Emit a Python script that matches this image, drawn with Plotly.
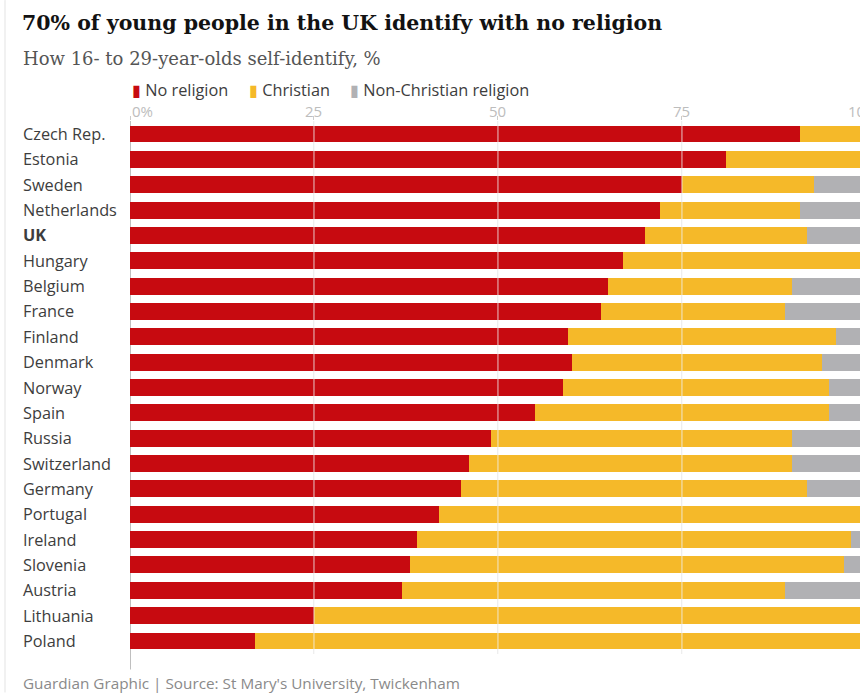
import plotly.graph_objects as go

countries = ["Czech Rep.", "Estonia", "Sweden", "Netherlands", "UK", "Hungary", "Belgium",
             "France", "Finland", "Denmark", "Norway", "Spain", "Russia", "Switzerland",
             "Germany", "Portugal", "Ireland", "Slovenia", "Austria", "Lithuania", "Poland"]
no_religion = [91, 81, 75, 72, 70, 67, 65, 64, 59.5, 60, 58.8, 55, 49, 46, 45, 42, 39, 38, 37, 25, 17]
christian = [9, 19, 18, 19, 22, 33, 25, 25, 36.5, 34, 36.2, 40, 41, 44, 47, 58, 59, 59, 52, 75, 83]
non_christian = [0, 0, 7, 9, 8, 0, 10, 11, 4, 6, 5, 5, 10, 10, 8, 0, 2, 3, 11, 0, 0]
series_names = ["No religion", "Christian", "Non-Christian religion"]
tick_values = [0, 25, 50, 75, 100]
tick_labels = ["0%", "25", "50", "75", "100"]

colors = ["#c70a10", "#f5b929", "#b1b1b4"]

W, H = 860, 693
L, R = 130, 860
T, B = 121, 654.5
PH = B - T
PW = R - L
XMAX = 99.2


def px(x):
    return (x - L) / PW


def py(y):
    return (B - y) / PH


fig = go.Figure()
for name, vals, col in zip(series_names, [no_religion, christian, non_christian], colors):
    fig.add_trace(go.Bar(y=countries, x=vals, name=name, orientation="h",
                         marker=dict(color=col, line=dict(width=0)), showlegend=False,
                         hoverinfo="x+y+name"))

annotations = []
# country labels
for c in countries:
    annotations.append(dict(x=px(20.5), xref="paper", y=c, yref="y", xanchor="left", yanchor="middle",
                            text=("<b>%s</b>" % c) if c == "UK" else c, showarrow=False,
                            font=dict(family="Open Sans", size=16.3, color="#3d3d3d")))
# axis tick labels (top)
for v, t in zip(tick_values, tick_labels):
    xp = px(L + v * PW / XMAX)
    annotations.append(dict(x=xp, xref="paper", y=py(111), yref="paper",
                            xanchor="left" if v == 0 else "center", yanchor="middle",
                            xshift=-5 if v == 100 else 0,
                            text=t, showarrow=False,
                            font=dict(family="Open Sans", size=15, color="#bdbdbd")))
# legend
leg_x = [130, 247, 348]
for name, col, lx in zip(series_names, colors, leg_x):
    annotations.append(dict(x=px(lx), xref="paper", y=py(89.5), yref="paper", xanchor="left",
                            yanchor="middle", showarrow=False,
                            text="<span style='color:%s'>▮</span> %s" % (col, name),
                            font=dict(family="Open Sans", size=16.3, color="#3d3d3d")))
# subtitle
annotations.append(dict(x=px(21), xref="paper", y=py(58), yref="paper", xanchor="left", yanchor="middle",
                        showarrow=False, text="How 16- to 29-year-olds self-identify, %",
                        font=dict(family="DejaVu Serif", size=18, color="#555555")))
# footer
annotations.append(dict(x=px(20.5), xref="paper", y=py(684), yref="paper", xanchor="left", yanchor="middle",
                        showarrow=False, text="Guardian Graphic | Source: St Mary's University, Twickenham",
                        font=dict(family="Open Sans", size=15.3, color="#8a8a8a")))

shapes = []
# gridlines over the bars
for v in tick_values[1:4]:
    shapes.append(dict(type="line", xref="x", yref="paper", x0=v, x1=v, y0=0, y1=1.0,
                       line=dict(color="rgba(240,240,240,0.55)", width=1.5), layer="above"))
# zero baseline extension below
shapes.append(dict(type="line", xref="x", yref="paper", x0=0, x1=0, y0=py(670), y1=1.0,
                   line=dict(color="#aaaaaa", width=1.5), layer="below"))
# left border line
shapes.append(dict(type="line", xref="paper", yref="paper", x0=px(5), x1=px(5), y0=py(693), y1=py(0),
                   line=dict(color="#e3e3e3", width=1)))

fig.update_layout(
    width=W, height=H,
    barmode="stack", bargap=0.33,
    paper_bgcolor="white", plot_bgcolor="white",
    margin=dict(l=L, r=W - R, t=T, b=H - B),
    title=dict(text="<b>70% of young people in the UK identify with no religion</b>",
               x=22 / W, xanchor="left", xref="container",
               y=1 - 23 / H, yanchor="middle", yref="container",
               font=dict(family="DejaVu Serif", size=20.5, color="#121212")),
    xaxis=dict(range=[0, XMAX], side="top", tickvals=tick_values, showticklabels=False,
               ticks="outside", ticklen=4, tickcolor="#cccccc", showgrid=True,
               gridcolor="#ececec", gridwidth=1, zeroline=False, showline=False, fixedrange=True),
    yaxis=dict(categoryorder="array", categoryarray=countries, autorange="reversed",
               showticklabels=False, showgrid=False, zeroline=False, ticks="", fixedrange=True),
    annotations=annotations,
    shapes=shapes,
)

fig.write_html("out.html", config={"displayModeBar": False},
               post_script="document.body.style.margin='0';document.body.style.overflow='hidden';")
